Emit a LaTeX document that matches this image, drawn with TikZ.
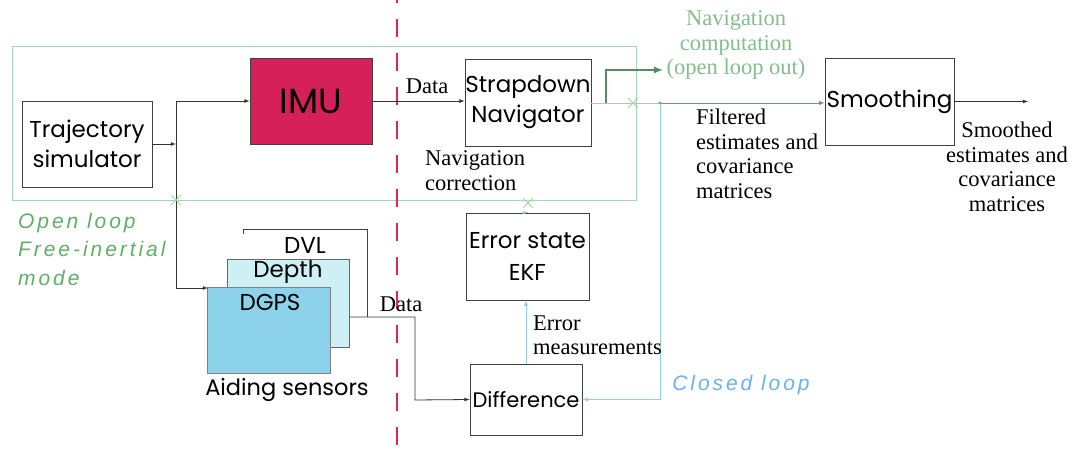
\documentclass[tikz,border=0pt]{standalone}
\usepackage{fontspec}
\setmainfont{Liberation Serif}
\newfontfamily\boxfont{Poppins}
\newfontfamily\loopfont[LetterSpace=14]{Liberation Sans}
\usetikzlibrary{shapes.misc}
\definecolor{framegreen}{RGB}{165,212,188}
\definecolor{imured}{RGB}{214,32,90}
\definecolor{dashred}{RGB}{225,40,80}
\definecolor{olgreen}{RGB}{95,175,100}
\definecolor{navgreen}{RGB}{130,190,140}
\definecolor{outgreen}{RGB}{85,140,95}
\definecolor{filtgreen}{RGB}{110,150,120}
\definecolor{xgreen}{RGB}{150,220,150}
\definecolor{clblue}{RGB}{110,175,240}
\definecolor{fbblue}{RGB}{150,205,235}
\definecolor{depthfill}{RGB}{205,240,245}
\definecolor{dgpsfill}{RGB}{140,210,235}
\begin{document}
\begin{tikzpicture}[x=1pt,y=-1pt,
  blk/.style={draw=black!75,line width=0.8pt,font=\boxfont\fontsize{23}{30}\selectfont,align=center,inner sep=0pt},
  lbl/.style={font=\fontsize{22.5}{24.5}\selectfont,inner sep=0pt},
  xmark/.style={cross out,draw=xgreen,line width=1pt,minimum size=9pt,inner sep=0pt}]
			\useasboundingbox (0,0) rectangle (1072,449);

			\node[draw=framegreen,line width=1pt,minimum width=624,minimum height=154] (frame) at (324,124) {};
			\draw[dashred,line width=2.5pt,dash pattern=on 18pt off 16pt] (397,-15) -- (397,449);

			\node[blk,minimum width=130,minimum height=86] (traj) at (87,144) {Trajectory\\simulator};
			\node[blk,fill=imured,minimum width=122,minimum height=86,font=\boxfont\fontsize{35}{38}\selectfont] (imu) at (311,101) {IMU};
			\node[blk,minimum width=126,minimum height=87] (sdn) at (528,102.5) {Strapdown\\Navigator};
			\node[blk,minimum width=129,minimum height=87] (smooth) at (889.5,101.5) {Smoothing};
			\node[blk,minimum width=123,minimum height=87,font=\boxfont\fontsize{23}{32}\selectfont] (ekf) at (527.5,256.5) {Error state\\EKF};
			\node[blk,minimum width=112,minimum height=71,font=\boxfont\fontsize{21}{30}\selectfont] (diff) at (526,399.5) {Difference};

			\draw[black!75,line width=0.8pt] (243,234) -- (243,229) -- (367,229) -- (367,317);
			\node[blk,draw=none] (dvl) at (305,245) {DVL};
			\node[blk,fill=depthfill,draw=black!60,minimum width=122,minimum height=88] (depth) at (288,303) {};
			\node[blk,draw=none] (depthtxt) at (288,272) {Depth};
			\node[blk,fill=dgpsfill,draw=black!50,minimum width=123,minimum height=86] (dgps) at (268.5,330) {};
			\node[blk,draw=none] (dgpstxt) at (270,302) {DGPS};
			\node[blk,draw=none,font=\boxfont\fontsize{22.5}{30}\selectfont] (aiding) at (287,390) {Aiding sensors};

			\coordinate (jn) at (176,144);
			\coordinate (dgpsin) at (208,288);
			\coordinate (dot) at (660,103);
			\coordinate (datain) at (350,317);
			\coordinate (out) at (1028,101.5);

			\begin{scope}[->,>=latex,line width=0.8pt,black!80]
			    \draw (traj.east) -- (jn);
			    \draw (jn) |- (imu.west);
			    \draw (jn) |- (dgpsin);
			    \draw (imu.east) -- (imu.east -| sdn.west);
			    \draw (datain) -| (415,400) -- (diff.west);
			    \draw (smooth.east) -- (out);
			\end{scope}

			\draw[black!25,line width=0.8pt] (sdn.east |- dot) -- (dot);
			\fill[filtgreen] (dot) circle (1.6);
			\draw[->,>=latex,filtgreen,line width=0.9pt] (dot) -- (dot -| smooth.west);
			\draw[->,>=latex,outgreen,line width=2pt] (606,103) |- (663,70);

			\begin{scope}[->,>=latex,fbblue,line width=0.9pt]
			    \draw (dot) |- (diff.east);
			    \draw (diff.north) -- (diff.north |- ekf.south);
			    \draw (ekf.north) -- (ekf.north -| sdn.south);
			\end{scope}

			\node[xmark] (x1) at (176,200) {};
			\node[xmark] (x2) at (633,103) {};
			\node[xmark] (x3) at (528,203) {};

			\node[lbl] (data1) at (427,86) {Data};
			\node[lbl] (data2) at (401,304) {Data};
			\node[lbl,align=left,anchor=west] (navcorr) at (425,170.5) {Navigation\\correction};
			\node[lbl,align=left,anchor=west] (errmeas) at (533,335) {Error\\measurements};
			\node[lbl,align=left,anchor=west] (filt) at (696,154) {Filtered\\estimates and\\covariance\\matrices};
			\node[lbl,align=center] (smoothed) at (1007,167) {Smoothed\\estimates and\\covariance\\matrices};
			\node[lbl,align=center,text=navgreen] (navcomp) at (736,45) {Navigation\\computation\\(open loop out)};
			\node[align=left,anchor=west,inner sep=0pt,text=olgreen,font=\loopfont\itshape\fontsize{21}{28.5}\selectfont] (openloop) at (18,249) {Open loop\\Free-inertial\\mode};
			\node[inner sep=0pt,text=clblue,font=\loopfont\itshape\fontsize{21}{28}\selectfont] (closedloop) at (741,385) {Closed loop};
		    \end{tikzpicture}
\end{document}
